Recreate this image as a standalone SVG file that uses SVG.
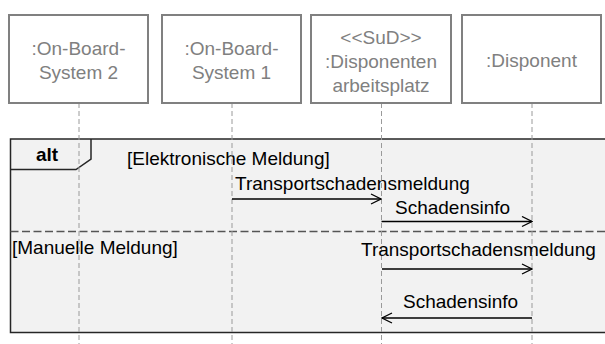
<svg xmlns="http://www.w3.org/2000/svg" width="605" height="344" viewBox="0 0 605 344">
<defs>
<style>
.box{fill:#fff;stroke:#808080;stroke-width:2}
.lbl{font-family:"Liberation Sans",Arial,sans-serif;font-size:19px;fill:#808080;text-anchor:middle}
.life{stroke:#9a9a9a;stroke-width:1;stroke-dasharray:5 3;fill:none}
.frame{fill:#f2f2f2;stroke:#262626;stroke-width:1.5}
.sep{stroke:#555;stroke-width:1.5;stroke-dasharray:8 3.5;fill:none}
.txt{font-family:"Liberation Sans",Arial,sans-serif;font-size:19px;fill:#000}
.msg{stroke:#000;stroke-width:1.3;fill:none}
</style>
<marker id="open" viewBox="0 0 12 12" refX="11" refY="6" markerWidth="12" markerHeight="12" markerUnits="userSpaceOnUse" orient="auto">
<path d="M1,1 L11,6 L1,11" fill="none" stroke="#000" stroke-width="1.3"/>
</marker>
</defs>
<g id="frame-alt">
<rect class="frame" x="10.5" y="139" width="598" height="193.5"/>
<path d="M10.5,169.5 H76 L91,159 V139" fill="none" stroke="#262626" stroke-width="1.5"/>
<text x="47" y="160.5" class="txt" font-weight="bold" text-anchor="middle">alt</text>
<text x="127" y="165" class="txt">[Elektronische Meldung]</text>
<line class="sep" x1="10.5" y1="231.5" x2="605" y2="231.5"/>
<text x="12" y="254" class="txt">[Manuelle Meldung]</text>
</g>
<g id="lifelines">
<line class="life" x1="79" y1="103" x2="79" y2="344"/>
<line class="life" x1="232" y1="103" x2="232" y2="344"/>
<line class="life" x1="381.5" y1="103" x2="381.5" y2="344"/>
<line class="life" x1="532" y1="103" x2="532" y2="344"/>
</g>
<g id="obs2">
<rect class="box" x="9" y="15" width="139" height="88"/>
<text class="lbl" x="78.5" y="55">:On-Board-</text>
<text class="lbl" x="78.5" y="79">System 2</text>
</g>
<g id="obs1">
<rect class="box" x="162" y="15" width="139" height="88"/>
<text class="lbl" x="231.5" y="55">:On-Board-</text>
<text class="lbl" x="231.5" y="79">System 1</text>
</g>
<g id="sud">
<rect class="box" x="311" y="15" width="140" height="88"/>
<text class="lbl" x="381" y="44">&lt;&lt;SuD&gt;&gt;</text>
<text class="lbl" x="381" y="68">:Disponenten</text>
<text class="lbl" x="381" y="92">arbeitsplatz</text>
</g>
<g id="disponent">
<rect class="box" x="462" y="15" width="139" height="88"/>
<text class="lbl" x="531.5" y="67">:Disponent</text>
</g>
<g id="connectors">
<line class="msg" x1="232" y1="199" x2="381" y2="199" marker-end="url(#open)"/>
<text class="txt" x="235" y="190">Transportschadensmeldung</text>
<line class="msg" x1="381.5" y1="221.5" x2="532" y2="221.5" marker-end="url(#open)"/>
<text class="txt" x="395" y="214">Schadensinfo</text>
<line class="msg" x1="382" y1="269" x2="532" y2="269" marker-end="url(#open)"/>
<text class="txt" x="361" y="256">Transportschadensmeldung</text>
<line class="msg" x1="532" y1="318" x2="382" y2="318" marker-end="url(#open)"/>
<text class="txt" x="403" y="308">Schadensinfo</text>
</g>
</svg>
